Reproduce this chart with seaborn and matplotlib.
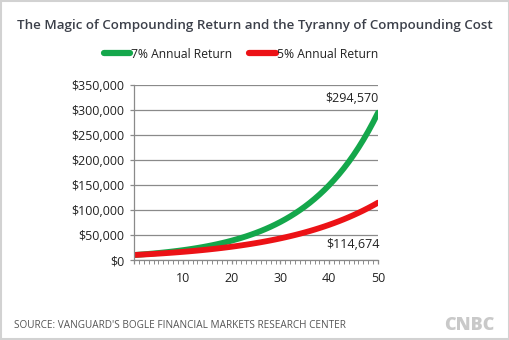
import matplotlib
matplotlib.use("Agg")
import matplotlib.pyplot as plt
import seaborn as sns
import pandas as pd
from matplotlib.ticker import FuncFormatter, MultipleLocator
from matplotlib.patches import Rectangle
from matplotlib.lines import Line2D

years = list(range(0, 51))
return_7 = [10000, 10700, 11449, 12250, 13108, 14026, 15007, 16058, 17182, 18385,
            19672, 21049, 22522, 24098, 25785, 27590, 29522, 31588, 33799, 36165,
            38697, 41406, 44304, 47405, 50724, 54274, 58074, 62139, 66488, 71143,
            76123, 81451, 87153, 93253, 99781, 106766, 114239, 122236, 130793, 139948,
            149745, 160227, 171443, 183444, 196285, 210024, 224726, 240457, 257289, 275299,
            294570]
return_5 = [10000, 10500, 11025, 11576, 12155, 12763, 13401, 14071, 14775, 15513,
            16289, 17103, 17959, 18856, 19799, 20789, 21829, 22920, 24066, 25270,
            26533, 27860, 29253, 30715, 32251, 33864, 35557, 37335, 39201, 41161,
            43219, 45380, 47649, 50032, 52533, 55160, 57918, 60814, 63855, 67048,
            70400, 73920, 77616, 81497, 85572, 89850, 94343, 99060, 104013, 109213,
            114674]
series_names = ["7% Annual Return", "5% Annual Return"]
end_labels = ["$294,570", "$114,674"]
title = "The Magic of Compounding Return and the Tyranny of Compounding Cost"
source = "SOURCE: VANGUARD'S BOGLE FINANCIAL MARKETS RESEARCH CENTER"

df = pd.concat([
    pd.DataFrame({"year": years, "value": return_7, "series": series_names[0]}),
    pd.DataFrame({"year": years, "value": return_5, "series": series_names[1]}),
])

sns.set_style("white")
plt.rcParams["font.family"] = ["Open Sans", "DejaVu Sans"]

fig = plt.figure(figsize=(5.1, 3.4), dpi=100)
ax = fig.add_axes([134/510, 1-260/340, (378-134)/510, (260-85)/340])

palette = {series_names[0]: "#14a74b", series_names[1]: "#ec1216"}
sns.lineplot(data=df, x="year", y="value", hue="series", palette=palette,
             linewidth=4.2, ax=ax, legend=False, solid_capstyle="round")

ax.set_xlim(0, 50)
ax.set_ylim(0, 350000)
ax.yaxis.set_major_locator(MultipleLocator(50000))
ax.xaxis.set_major_locator(MultipleLocator(10))
ax.xaxis.set_minor_locator(MultipleLocator(1))
ax.yaxis.set_major_formatter(FuncFormatter(lambda v, p: "${:,.0f}".format(v)))
ax.xaxis.set_major_formatter(FuncFormatter(lambda v, p: "" if v == 0 else "{:.0f}".format(v)))
ax.grid(axis="y", color="#8a8a8a", linewidth=0.9)
ax.set_axisbelow(True)
for s in ["top", "right"]:
    ax.spines[s].set_visible(False)
for s in ["left", "bottom"]:
    ax.spines[s].set_color("#8a8a8a")
    ax.spines[s].set_linewidth(0.9)
ax.tick_params(axis="y", which="major", left=True, length=3, width=0.9, color="#8a8a8a",
               labelsize=9, labelcolor="#222222", pad=4)
ax.tick_params(axis="x", which="major", bottom=True, length=3, width=0.9, color="#8a8a8a",
               labelsize=9, labelcolor="#222222", pad=6)
ax.tick_params(axis="x", which="minor", bottom=True, length=3, width=0.7, color="#8a8a8a")
ax.set_xlabel("")
ax.set_ylabel("")

ax.text(50, 324000, end_labels[0], ha="right", va="center",
        fontsize=9, color="#222222")
ax.text(50.3, 30000, end_labels[1], ha="right", va="center",
        fontsize=9, color="#222222")

fig.text(255/510, 1-25/340, title, ha="center", va="center", fontsize=9.6,
         fontweight="semibold", color="#3c404a")

handles = [Line2D([], [], color=palette[n], linewidth=4.5) for n in series_names]
fig.legend(handles, series_names, loc="center", bbox_to_anchor=(241/510, 1-54/340),
           ncol=2, frameon=False, handlelength=2.2, handletextpad=0.1,
           columnspacing=1.4, fontsize=8.7, labelcolor="#222222")

fig.text(14/510, 1-326/340, source, ha="left", va="center", fontsize=7.2,
         color="#555555")
fig.text(495/510, 1-326/340, "CNBC", ha="right", va="center", fontsize=13,
         fontweight="heavy", color="#c9c9c9")

fig.patches.append(Rectangle((0.002, 0.003), 0.996, 0.994, transform=fig.transFigure,
                             fill=False, edgecolor="#d2d2d2", linewidth=1.5))

fig.savefig("out.png", dpi=100)
